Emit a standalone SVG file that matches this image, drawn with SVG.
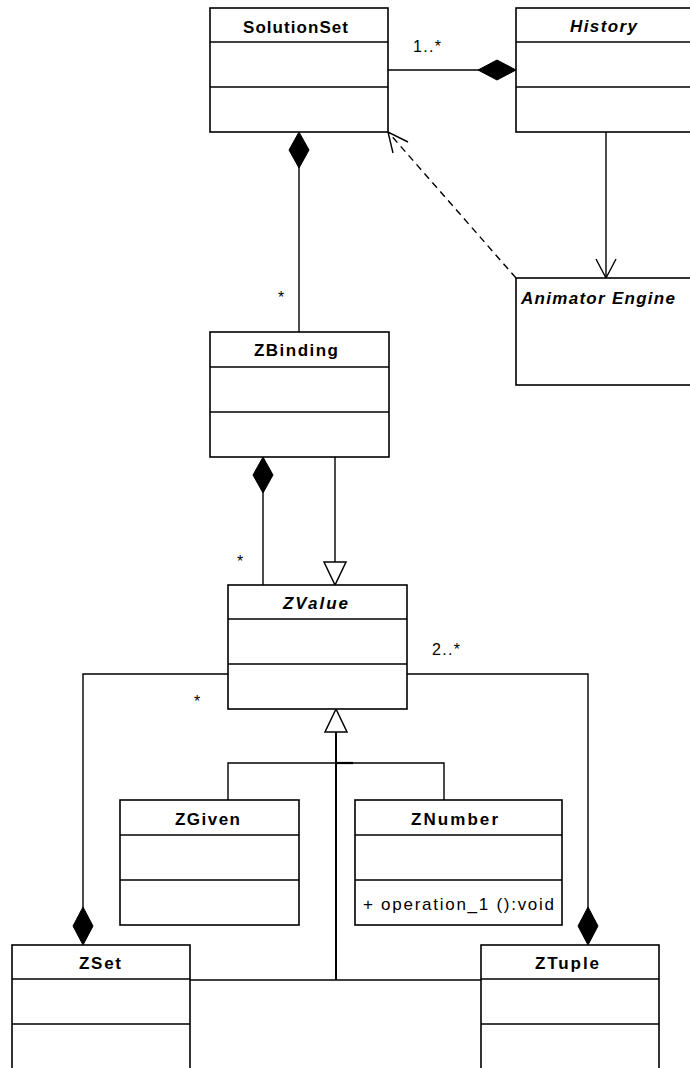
<svg xmlns="http://www.w3.org/2000/svg" width="690" height="1068" viewBox="0 0 690 1068">
<style>
.box{fill:#fff;stroke:#000;stroke-width:1.6}
.div{stroke:#000;stroke-width:1.6}
.ln{fill:none;stroke:#000;stroke-width:1.4}
.dash{fill:none;stroke:#000;stroke-width:1.4;stroke-dasharray:7,5}
.dia{fill:#000;stroke:#000;stroke-width:1}
.tri{fill:#fff;stroke:#000;stroke-width:1.5}
.t{font-family:"Liberation Sans",Arial,sans-serif;font-size:17px;font-weight:bold;fill:#000}
.ti{font-family:"Liberation Sans",Arial,sans-serif;font-size:17px;font-weight:bold;font-style:italic;fill:#000}
.l{font-family:"Liberation Sans",Arial,sans-serif;font-size:16px;fill:#000}
.op{font-family:"Liberation Sans",Arial,sans-serif;font-size:17px;fill:#000}
</style>
<g id="connectors">
<line class="ln" x1="388" y1="70" x2="480" y2="70"/>
<polygon class="dia" points="516,70 497,60 478,70 497,80"/>
<text class="l" x="413" y="52" textLength="28" lengthAdjust="spacing">1..*</text>
<line class="ln" x1="299" y1="166" x2="299" y2="332"/>
<polygon class="dia" points="299,132 309,150 299,168 289,150"/>
<text class="l" x="278" y="303">*</text>
<line class="dash" x1="516" y1="278" x2="389" y2="133"/>
<polyline class="ln" points="393,153 388,132 408,142"/>
<line class="ln" x1="606" y1="132" x2="606" y2="277"/>
<polyline class="ln" points="596,259 606,278 616,259"/>
<line class="ln" x1="263" y1="491" x2="263" y2="585"/>
<polygon class="dia" points="263,457 273,475 263,493 253,475"/>
<text class="l" x="237" y="567">*</text>
<line class="ln" x1="335" y1="457" x2="335" y2="562"/>
<polygon class="tri" points="335,585 324,562 346,562"/>
<polyline class="ln" points="228,674 83,674 83,909"/>
<polygon class="dia" points="83,945 93,926 83,907 73,926"/>
<text class="l" x="194" y="707">*</text>
<polyline class="ln" points="407,674 588,674 588,909"/>
<polygon class="dia" points="588,945 598,926 588,907 578,926"/>
<text class="l" x="432" y="655" textLength="28" lengthAdjust="spacing">2..*</text>
<polygon class="tri" points="336,709 325,732 347,732"/>
<line x1="336" y1="732" x2="336" y2="980" stroke="#000" stroke-width="2"/>
<polyline class="ln" points="228,800 228,763 444,763 444,800"/>
<line x1="336" y1="763" x2="353" y2="763" stroke="#000" stroke-width="2.2"/>
<line class="ln" x1="190" y1="980" x2="481" y2="980"/>
</g>
<g id="SolutionSet">
<rect class="box" x="210" y="8" width="178" height="124"/>
<line class="div" x1="210" y1="42" x2="388" y2="42"/>
<line class="div" x1="210" y1="87" x2="388" y2="87"/>
<text class="t" x="243" y="33" textLength="105" lengthAdjust="spacing">SolutionSet</text>
</g>
<g id="History">
<rect class="box" x="516" y="8" width="190" height="124"/>
<line class="div" x1="516" y1="42" x2="690" y2="42"/>
<line class="div" x1="516" y1="87" x2="690" y2="87"/>
<text class="ti" x="570" y="32" textLength="67" lengthAdjust="spacing">History</text>
</g>
<g id="AnimatorEngine">
<rect class="box" x="516" y="278" width="190" height="107"/>
<text class="ti" x="521" y="304" textLength="154" lengthAdjust="spacing">Animator Engine</text>
</g>
<g id="ZBinding">
<rect class="box" x="210" y="332" width="179" height="125"/>
<line class="div" x1="210" y1="367" x2="389" y2="367"/>
<line class="div" x1="210" y1="412" x2="389" y2="412"/>
<text class="t" x="254" y="356" textLength="84" lengthAdjust="spacing">ZBinding</text>
</g>
<g id="ZValue">
<rect class="box" x="228" y="585" width="179" height="124"/>
<line class="div" x1="228" y1="619" x2="407" y2="619"/>
<line class="div" x1="228" y1="664" x2="407" y2="664"/>
<text class="ti" x="283" y="609" textLength="65" lengthAdjust="spacing">ZValue</text>
</g>
<g id="ZGiven">
<rect class="box" x="120" y="800" width="179" height="125"/>
<line class="div" x1="120" y1="835" x2="299" y2="835"/>
<line class="div" x1="120" y1="880" x2="299" y2="880"/>
<text class="t" x="175" y="825" textLength="65" lengthAdjust="spacing">ZGiven</text>
</g>
<g id="ZNumber">
<rect class="box" x="355" y="800" width="207" height="125"/>
<line class="div" x1="355" y1="835" x2="562" y2="835"/>
<line class="div" x1="355" y1="880" x2="562" y2="880"/>
<text class="t" x="411" y="825" textLength="87" lengthAdjust="spacing">ZNumber</text>
<text class="op" x="363" y="910" textLength="191" lengthAdjust="spacing">+ operation_1  ():void</text>
</g>
<g id="ZSet">
<rect class="box" x="12" y="945" width="178" height="140"/>
<line class="div" x1="12" y1="979" x2="190" y2="979"/>
<line class="div" x1="12" y1="1024" x2="190" y2="1024"/>
<text class="t" x="79" y="969" textLength="42" lengthAdjust="spacing">ZSet</text>
</g>
<g id="ZTuple">
<rect class="box" x="481" y="945" width="178" height="140"/>
<line class="div" x1="481" y1="979" x2="659" y2="979"/>
<line class="div" x1="481" y1="1024" x2="659" y2="1024"/>
<text class="t" x="535" y="969" textLength="64" lengthAdjust="spacing">ZTuple</text>
</g>
</svg>
